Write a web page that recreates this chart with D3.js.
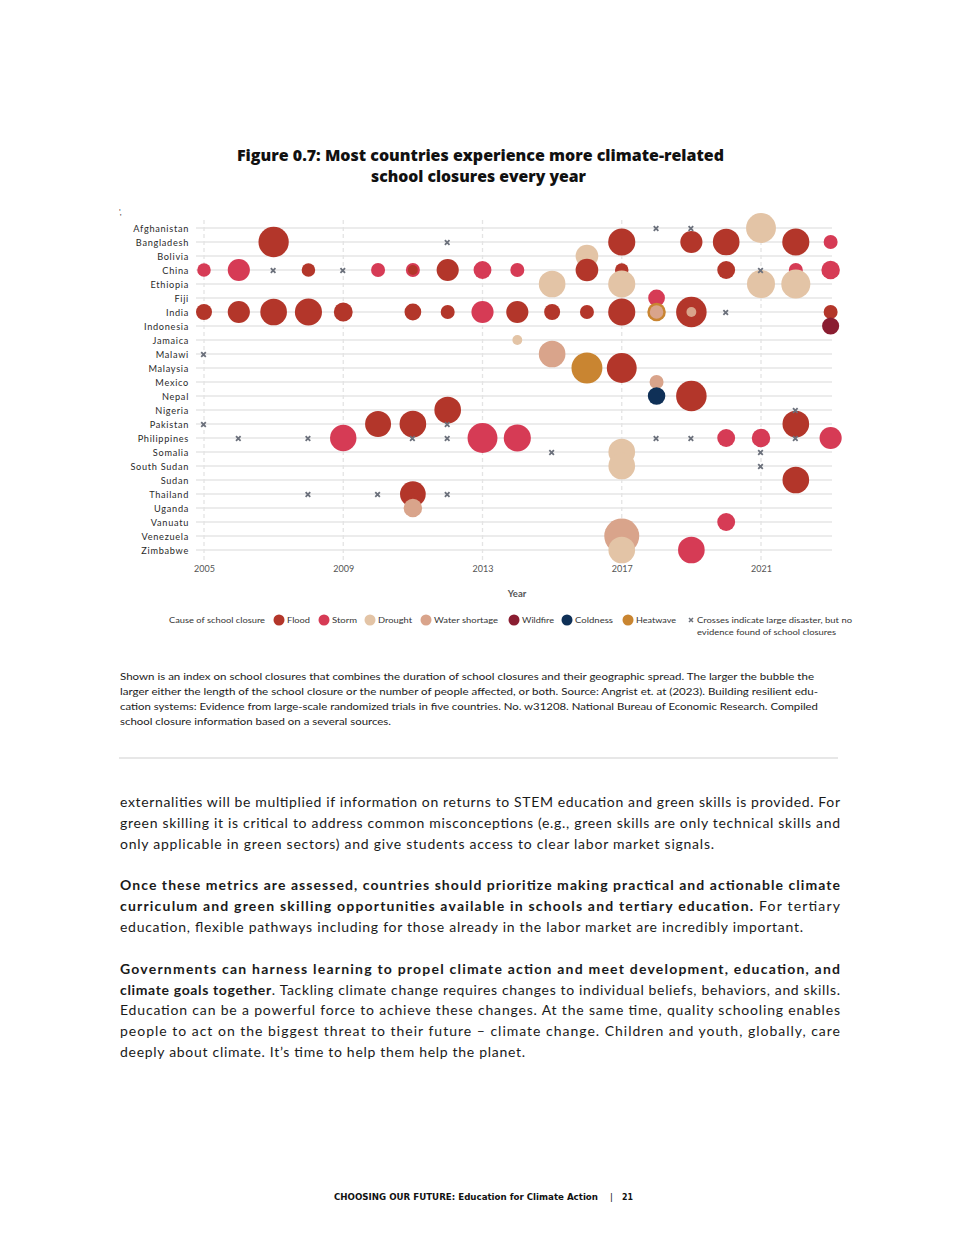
<!DOCTYPE html>
<html>
<head>
<meta charset="utf-8">
<script src="https://cdn.jsdelivr.net/npm/d3@7"></script>
<style>
  html, body { margin: 0; padding: 0; background: #fff; }
  svg { display: block; }
</style>
</head>
<body>
<div id="page"></div>
<script>
// ---------------- DATA ----------------
const countries = ["Afghanistan","Bangladesh","Bolivia","China","Ethiopia","Fiji","India","Indonesia","Jamaica","Malawi","Malaysia","Mexico","Nepal","Nigeria","Pakistan","Philippines","Somalia","South Sudan","Sudan","Thailand","Uganda","Vanuatu","Venezuela","Zimbabwe"];
const tickYears = [2005, 2009, 2013, 2017, 2021];
const causes = ["Flood","Storm","Drought","Water shortage","Wildfire","Coldness","Heatwave"];

// [country, year, closure index]
const flood = [
  ["Bangladesh",2007,7.5],["Bangladesh",2017,6],["Bangladesh",2019,4],["Bangladesh",2020,5.8],["Bangladesh",2022,6],
  ["China",2008,1.5],["China",2011,0.8],["China",2012,4],["China",2016,4.2],["China",2017,1.5],["China",2020,2.6],
  ["India",2005,2.1],["India",2006,4],["India",2007,5.8],["India",2008,6],["India",2009,2.9],["India",2011,2.3],
  ["India",2012,1.6],["India",2014,4],["India",2015,2.1],["India",2016,1.6],["India",2017,6],["India",2019,7.6],["India",2023,1.6],
  ["Malaysia",2017,7.3],["Nepal",2019,7.6],["Nigeria",2012,5.8],["Pakistan",2010,5.5],["Pakistan",2011,5.8],
  ["Pakistan",2022,5.8],["Sudan",2022,5.8],["Thailand",2011,5.4]
];
const storm = [
  ["Bangladesh",2023,1.6],["China",2005,1.5],["China",2006,4],["China",2010,1.6],["China",2011,1.6],["China",2013,2.6],
  ["China",2014,1.6],["China",2022,1.6],["China",2023,2.8],["Fiji",2018,2.3],["India",2013,4],["Philippines",2009,5.7],
  ["Philippines",2013,7.3],["Philippines",2014,6],["Philippines",2020,2.6],["Philippines",2021,2.8],["Philippines",2023,4],
  ["Vanuatu",2020,2.6],["Zimbabwe",2019,5.8]
];
const drought = [
  ["Afghanistan",2021,7.3],["Bolivia",2016,4.2],["Ethiopia",2015,5.8],["Ethiopia",2017,6],["Ethiopia",2021,6.4],
  ["Ethiopia",2022,6.9],["Jamaica",2014,0.8],["Somalia",2017,5.8],["South Sudan",2017,5.8],["Zimbabwe",2017,5.8]
];
const waterShortage = [
  ["India",2018,1.5],["India",2019,0.8],["Malawi",2015,5.8],["Mexico",2018,1.6],["Uganda",2011,2.8],["Venezuela",2017,10]
];
const wildfire = [["Indonesia",2023,2.4]];
const coldness = [["Nepal",2018,2.5]];
const heatwave = [["India",2018,2.8],["Malaysia",2016,7.8]];

// large disaster, no evidence of school closure
const crosses = [
  ["Afghanistan",2018],["Afghanistan",2019],["Bangladesh",2012],["China",2007],["China",2009],["China",2021],
  ["India",2020],["Malawi",2005],["Nigeria",2022],["Pakistan",2005],["Pakistan",2012],["Philippines",2006],
  ["Philippines",2008],["Philippines",2011],["Philippines",2012],["Philippines",2018],["Philippines",2019],
  ["Philippines",2022],["Somalia",2015],["Somalia",2021],["South Sudan",2021],["Thailand",2008],["Thailand",2010],["Thailand",2012]
];

// ---------------- STYLE ----------------
const causeColor = {
  "Flood":"#b3362a","Storm":"#d63b55","Drought":"#e3c4a6","Water shortage":"#d9a48b",
  "Wildfire":"#8a1d31","Coldness":"#0f3057","Heatwave":"#c98531"
};
const seriesByCause = {
  "Flood":flood,"Storm":storm,"Drought":drought,"Water shortage":waterShortage,
  "Wildfire":wildfire,"Coldness":coldness,"Heatwave":heatwave
};

const W = 960, H = 1260;
const svg = d3.select("#page").append("svg").attr("width", W).attr("height", H)
  .style("font-family", "Lato, 'Open Sans', sans-serif");
svg.append("rect").attr("width", W).attr("height", H).attr("fill", "#fff");

// Title
const title = svg.append("g").attr("font-family", "'Open Sans', sans-serif").attr("font-weight", 800)
  .attr("font-size", 16.5).attr("fill", "#111");
title.append("text").attr("x", 237).attr("y", 161).attr("textLength", 487).attr("lengthAdjust", "spacingAndGlyphs")
  .text("Figure 0.7: Most countries experience more climate-related");
title.append("text").attr("x", 371).attr("y", 182).attr("textLength", 215).attr("lengthAdjust", "spacingAndGlyphs")
  .text("school closures every year");

svg.append("text").attr("x", 119).attr("y", 215).attr("font-size", 8).attr("fill", "#333").text("',");

// Scales
const x = d3.scaleLinear().domain([2005, 2021]).range([204, 761]);
const y = d3.scalePoint().domain(countries).range([228, 550]);
const r = d3.scaleSqrt().domain([0, 10]).range([0, 17.5]);

// Grid
const grid = svg.append("g");
grid.selectAll("line.h").data(countries).join("line")
  .attr("x1", 196).attr("x2", 832).attr("y1", d => y(d)).attr("y2", d => y(d))
  .attr("stroke", "#ececec").attr("stroke-width", 2);
grid.selectAll("line.v").data(tickYears).join("line")
  .attr("x1", d => x(d)).attr("x2", d => x(d)).attr("y1", 220).attr("y2", 560)
  .attr("stroke", "#e4e4e4").attr("stroke-width", 1.3).attr("stroke-dasharray", "4,3");

// Y axis labels
const yAxis = d3.axisLeft(y).tickSize(0).tickPadding(0);
const yg = svg.append("g").attr("transform", "translate(189,0)").call(yAxis);
yg.select(".domain").remove();
yg.selectAll("text").attr("font-size", 9.2).attr("fill", "#2a2a2a").attr("letter-spacing", 0.7)
  .attr("font-family", "Lato, sans-serif").attr("dy", "0.34em").attr("x", 0);

// X axis
const xAxis = d3.axisBottom(x).tickValues(tickYears).tickFormat(d3.format("d")).tickSize(0).tickPadding(0);
const xg = svg.append("g").attr("transform", "translate(0,565.5)").call(xAxis);
xg.select(".domain").remove();
xg.selectAll("text").attr("font-size", 9).attr("fill", "#555").attr("font-family", "Lato, sans-serif").attr("dy", "0.71em");

svg.append("text").attr("x", 517).attr("y", 597).attr("text-anchor", "middle")
  .attr("font-size", 9.5).attr("font-weight", 700).attr("fill", "#555").text("Year");

// Bubbles
const points = [];
causes.forEach(c => seriesByCause[c].forEach(([country, year, v]) => points.push({c, country, year, v})));
points.sort((a, b) => (countries.indexOf(a.country) - countries.indexOf(b.country)) || (b.v - a.v));
svg.append("g").selectAll("circle").data(points).join("circle")
  .attr("cx", d => x(d.year)).attr("cy", d => y(d.country)).attr("r", d => r(d.v))
  .attr("fill", d => causeColor[d.c]);

// Crosses
const crossPath = s => `M${-s},${-s}L${s},${s}M${-s},${s}L${s},${-s}`;
svg.append("g").selectAll("path").data(crosses).join("path")
  .attr("transform", d => `translate(${x(d[1]) - 0.5},${y(d[0]) + 0.5})`)
  .attr("d", crossPath(2.3)).attr("stroke", "#6b707b").attr("stroke-width", 1.8).attr("fill", "none");

// Legend
const lg = svg.append("g").attr("font-size", 8).attr("fill", "#333").attr("font-family", "Lato, sans-serif");
lg.append("text").attr("x", 169).attr("y", 623).attr("textLength", 96).attr("lengthAdjust", "spacingAndGlyphs").text("Cause of school closure");
const legendX = [279, 324, 370, 426, 514, 567, 628];
const legendTL = [23, 25, 34, 64, 32, 38, 40];
causes.forEach((c, i) => {
  lg.append("circle").attr("cx", legendX[i]).attr("cy", 620).attr("r", 5.5).attr("fill", causeColor[c]);
  lg.append("text").attr("x", legendX[i] + 8).attr("y", 623)
    .attr("textLength", legendTL[i]).attr("lengthAdjust", "spacingAndGlyphs").text(c);
});
lg.append("path").attr("transform", "translate(691,620)").attr("d", crossPath(2))
  .attr("stroke", "#6b707b").attr("stroke-width", 1.5);
lg.append("text").attr("x", 697).attr("y", 623).attr("textLength", 155).attr("lengthAdjust", "spacingAndGlyphs")
  .text("Crosses indicate large disaster, but no");
lg.append("text").attr("x", 697).attr("y", 635).attr("textLength", 139).attr("lengthAdjust", "spacingAndGlyphs")
  .text("evidence found of school closures");

// Caption
const captionLines = [
  ["Shown is an index on school closures that combines the duration of school closures and their geographic spread. The larger the bubble the", 694],
  ["larger either the length of the school closure or the number of people affected, or both. Source: Angrist et. at (2023). Building resilient edu-", 698],
  ["cation systems: Evidence from large-scale randomized trials in five countries. No. w31208. National Bureau of Economic Research. Compiled", 698],
  ["school closure information based on a several sources.", 271]
];
const cap = svg.append("g").attr("font-size", 9.8).attr("fill", "#1a1a1a").attr("font-family", "Lato, sans-serif");
captionLines.forEach(([t, w], i) => {
  cap.append("text").attr("x", 120).attr("y", 680 + i * 15).attr("textLength", w)
    .attr("lengthAdjust", "spacingAndGlyphs").text(t);
});

svg.append("line").attr("x1", 119).attr("x2", 838).attr("y1", 758).attr("y2", 758)
  .attr("stroke", "#cfcfcf").attr("stroke-width", 1);

// Body text
const bodyLines = [
  {y: 807, w: 720, parts: [["externalities will be multiplied if information on returns to STEM education and green skills is provided. For", 0]]},
  {y: 828, w: 720, parts: [["green skilling it is critical to address common misconceptions (e.g., green skills are only technical skills and", 0]]},
  {y: 849, w: 594, parts: [["only applicable in green sectors) and give students access to clear labor market signals.", 0]]},
  {y: 890, w: 720, parts: [["Once these metrics are assessed, countries should prioritize making practical and actionable climate", 1]]},
  {y: 911, w: 720, parts: [["curriculum and green skilling opportunities available in schools and tertiary education.", 1], [" For tertiary", 0]]},
  {y: 932, w: 683, parts: [["education, flexible pathways including for those already in the labor market are incredibly important.", 0]]},
  {y: 974, w: 720, parts: [["Governments can harness learning to propel climate action and meet development, education, and", 1]]},
  {y: 995, w: 720, parts: [["climate goals together", 1], [". Tackling climate change requires changes to individual beliefs, behaviors, and skills.", 0]]},
  {y: 1015, w: 720, parts: [["Education can be a powerful force to achieve these changes. At the same time, quality schooling enables", 0]]},
  {y: 1036, w: 720, parts: [["people to act on the biggest threat to their future \u2013 climate change. Children and youth, globally, care", 0]]},
  {y: 1057, w: 405, parts: [["deeply about climate. It\u2019s time to help them help the planet.", 0]]}
];
const body = svg.append("g").attr("font-size", 14).attr("fill", "#1a1a1a").attr("font-family", "Lato, sans-serif");
bodyLines.forEach(l => {
  const t = body.append("text").attr("x", 120).attr("y", l.y).attr("textLength", l.w)
    .attr("lengthAdjust", "spacing").attr("xml:space", "preserve").style("white-space", "pre");
  l.parts.forEach(([s, b]) => t.append("tspan").attr("font-weight", b ? 700 : 400).text(s));
});

// Footer
const ft = svg.append("g").attr("font-family", "'DejaVu Sans Condensed', 'DejaVu Sans', sans-serif")
  .attr("font-weight", 700).attr("font-size", 9.5).attr("fill", "#111");
ft.append("text").attr("x", 334).attr("y", 1200).attr("textLength", 264).attr("lengthAdjust", "spacingAndGlyphs")
  .text("CHOOSING OUR FUTURE: Education for Climate Action");
ft.append("text").attr("x", 610).attr("y", 1200).attr("font-weight", 400).text("|");
ft.append("text").attr("x", 622).attr("y", 1200).attr("textLength", 11).attr("lengthAdjust", "spacingAndGlyphs").text("21");
</script>
</body>
</html>
